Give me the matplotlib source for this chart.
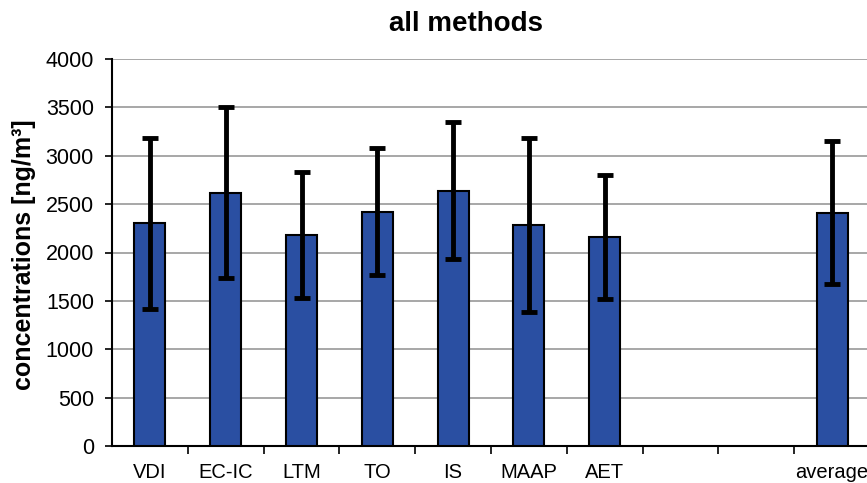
import numpy as np
import matplotlib
matplotlib.use('Agg')
from matplotlib import pyplot as plt

plt.rcParams['font.family'] = ['Liberation Sans', 'DejaVu Sans']

# data
methods = ['VDI', 'EC-IC', 'LTM', 'TO', 'IS', 'MAAP', 'AET', '', '', 'average']
values = [2300, 2620, 2180, 2420, 2640, 2280, 2160, np.nan, np.nan, 2410]
errors = [880, 880, 650, 655, 710, 900, 640, np.nan, np.nan, 740]
yticks = [0, 500, 1000, 1500, 2000, 2500, 3000, 3500, 4000]

fig = plt.figure(figsize=(8.67, 4.83), dpi=100)
ax = fig.add_axes([112/867, 37/483, 758/867, 387/483])

x = np.arange(len(methods))
ax.bar(x, values, width=0.41, color='#2a4fa2', edgecolor='black', linewidth=1.5,
       zorder=3)
ax.errorbar(x, values, yerr=errors, fmt='none', ecolor='black', elinewidth=3.5,
            capsize=6, capthick=3.5, zorder=4)

ax.set_xlim(-0.5, len(methods) - 0.5)
ax.set_ylim(0, 4000)
ax.set_yticks(yticks)
ax.yaxis.grid(True, color='#a0a0a0', linewidth=1.3, zorder=0)
ax.set_axisbelow(True)

# category labels without ticks, ticks at the boundaries
ax.set_xticks(x)
ax.set_xticklabels(methods, fontsize=14.5)
ax.tick_params(axis='x', length=0, pad=12)
ax.set_xticks(np.arange(0.5, len(methods) - 0.5), minor=True)
ax.tick_params(axis='x', which='minor', length=6, width=1.2, direction='out')
ax.tick_params(axis='y', labelsize=15.5, length=5, width=1.2, pad=8)

for s in ['top', 'right']:
    ax.spines[s].set_visible(False)
ax.spines['left'].set_linewidth(1.5)
ax.spines['bottom'].set_linewidth(1.5)

fig.text(466/867, 1 - 24/483, 'all methods', fontsize=20, fontweight='bold',
         ha='center', va='center')
fig.text(24/867, 1 - 255/483, 'concentrations [ng/m³]', fontsize=18,
         fontweight='bold', rotation=90, ha='center', va='center')

fig.savefig('out.png', dpi=100)
